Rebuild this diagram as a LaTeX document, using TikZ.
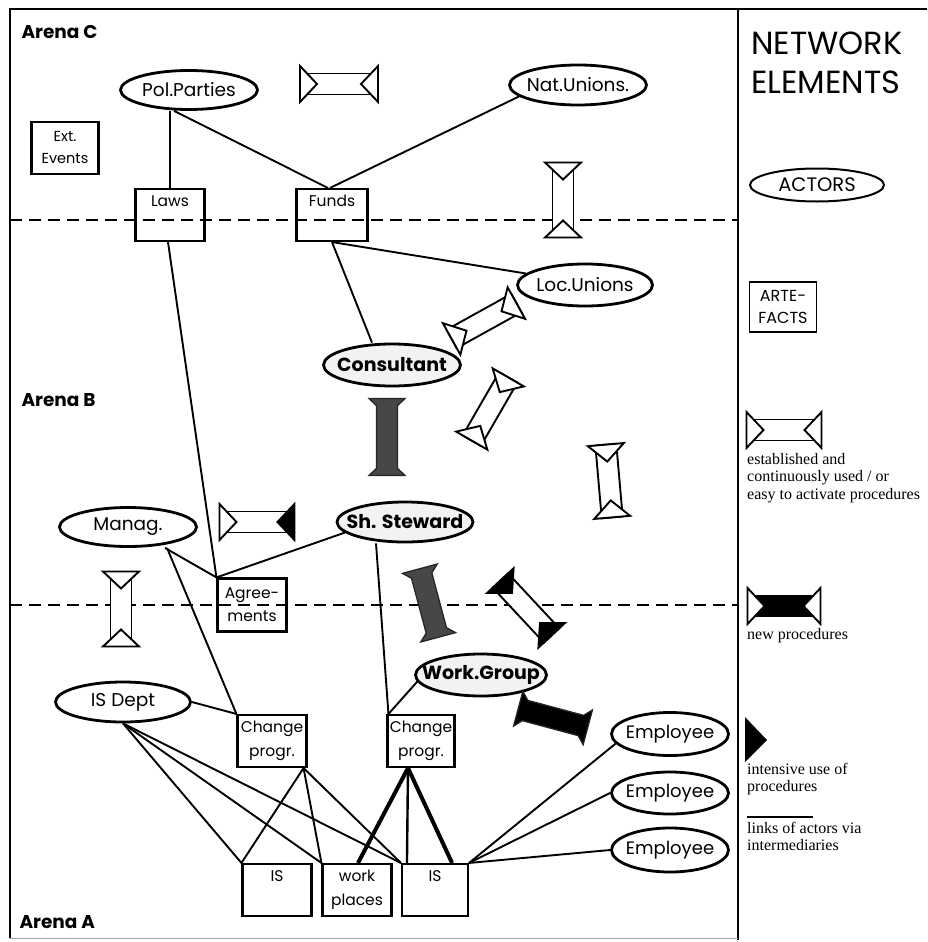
\documentclass[tikz,border=0pt]{standalone}
\usepackage{fontspec}
\setmainfont{Poppins}
\newfontfamily\legendfont{Liberation Serif}
\usetikzlibrary{shapes.geometric}
\newcommand\ztxt[1]{\makebox[0pt]{#1}}
\newcommand\procsym[6]{%
\begin{scope}[shift={(#1)},rotate=#2]
 \draw[procline,fill=#4] (-#3/2,-10.5) rectangle (#3/2,10.5);
 \draw[procline,fill=#5] (-#3/2,-18) -- (-#3/2,18) -- (-#3/2+17,0) -- cycle;
 \draw[procline,fill=#6] (#3/2,-18) -- (#3/2,18) -- (#3/2-17,0) -- cycle;
\end{scope}}
\newcommand\procsolid[4]{%
\begin{scope}[shift={(#1)},rotate=#2]
 \draw[procline,line width=1.3pt,draw=black!85,fill=#4] (-#3/2,-18) -- (-#3/2+7.1,-10.5) -- (#3/2-7.1,-10.5) -- (#3/2,-18) -- (#3/2,18) -- (#3/2-7.1,10.5) -- (-#3/2+7.1,10.5) -- (-#3/2,18) -- cycle;
\end{scope}}
\tikzset{
 actor/.style={ellipse,draw,line width=2.8pt,inner sep=0pt,font=\fontsize{18.5}{20}\selectfont},
 keyactor/.style={actor,fill=black!5,font=\fontsize{19}{21}\selectfont\bfseries},
 box/.style={draw,line width=2.1pt,inner sep=0pt,align=center,minimum width=69pt,minimum height=52pt,font=\fontsize{15.5}{24}\selectfont},
 link/.style={line width=1.9pt},
 thicklink/.style={line width=4pt},
 procline/.style={line width=1.9pt,line join=miter},
 arena/.style={anchor=west,font=\fontsize{18.5}{20}\selectfont\bfseries},
 divider/.style={line width=2.4pt,dash pattern=on 12pt off 7pt},
 legtext/.style={anchor=north west,align=left,inner sep=0pt,font=\legendfont\fontsize{16}{17.5}\selectfont},
}
\begin{document}
\begin{tikzpicture}[x=1pt,y=-1pt]
\useasboundingbox (0,0) rectangle (927,942);
% frame
\draw[line width=2.2pt] (10,938) -- (10,9) -- (927,9);
\draw[line width=2.2pt] (738,9) -- (738,940);
\draw[line width=1pt,black!35] (10,938) -- (738,938);
% dashed arena dividers
\draw[divider] (10,220) -- (738,220);
\draw[divider] (10,605) -- (738,605);
% arena labels
\node[arena] (arC) at (18,32) {Arena C};
\node[arena] (arB) at (18,400) {Arena B};
\node[arena] (arA) at (16,922) {Arena A};
% actors
\node[actor,minimum width=137pt,minimum height=39pt] (pp) at (189,90) {\ztxt{Pol.Parties}};
\node[actor,minimum width=137pt,minimum height=40pt] (nat) at (578,85) {\ztxt{Nat.Unions.}};
\node[actor,minimum width=135pt,minimum height=42pt] (loc) at (585,285) {\ztxt{Loc.Unions}};
\node[keyactor,minimum width=137pt,minimum height=42pt] (cons) at (392,365) {\ztxt{Consultant}};
\node[keyactor,minimum width=136pt,minimum height=40pt] (ss) at (405,522) {\ztxt{Sh. Steward}};
\node[actor,minimum width=137pt,minimum height=39pt] (manag) at (128,527) {\ztxt{Manag.}};
\node[keyactor,minimum width=131pt,minimum height=42pt] (wg) at (481,675) {\ztxt{Work.Group}};
\node[actor,minimum width=135pt,minimum height=40pt] (isd) at (123,702) {\ztxt{IS Dept}};
\node[actor,minimum width=117pt,minimum height=43pt,font=\fontsize{18}{20}\selectfont] (emp1) at (670,734) {\ztxt{Employee}};
\node[actor,minimum width=117pt,minimum height=42pt,font=\fontsize{18}{20}\selectfont] (emp2) at (670,793) {\ztxt{Employee}};
\node[actor,minimum width=117pt,minimum height=44pt,font=\fontsize{18}{20}\selectfont] (emp3) at (670,850) {\ztxt{Employee}};
% artefacts
\node[box,minimum width=67pt,font=\fontsize{14.5}{22}\selectfont] (ext) at (65,148) {Ext.\\Events};
\node[box] (laws) at (170,215) {Laws\\\phantom{g}};
\node[box,minimum width=71pt] (funds) at (332,215) {Funds\\\phantom{g}};
\node[box,minimum height=53pt,font=\fontsize{15.5}{23}\selectfont] (agree) at (252,605) {Agree-\\ments};
\node[box] (chL) at (272,741) {Change\\progr.};
\node[box,minimum width=67pt] (chR) at (421,741) {Change\\progr.};
\node[box,minimum height=52pt] (is1) at (277,890) {IS\\\phantom{g}};
\node[box,minimum height=52pt] (wp) at (357,890) {work\\places};
\node[box,minimum width=66pt,minimum height=52pt] (is2) at (435,890) {IS\\\phantom{g}};
% links
\draw[link] (laws.north |- pp.south) -- (laws.north);
\draw[link] ([xshift=-15pt]pp.south) -- ([xshift=-4pt]funds.north);
\draw[link] (nat.191) -- ([xshift=-2pt]funds.north);
\draw[link] ([xshift=-2pt]laws.south) -- (agree.north west);
\draw[link] (funds.south) -- ([xshift=-20pt]cons.north);
\draw[link] (funds.south) -- (loc.169);
\draw[link] ([xshift=37pt]manag.south) -- (agree.north west);
\draw[link] ([xshift=39pt]manag.south) -- (chL.north west);
\draw[link] (ss.190) -- (agree.north west);
\draw[link] ([xshift=-29pt]ss.south) -- ([xshift=2pt]chR.north west);
\draw[link] (wg.186) -- ([xshift=2pt]chR.north west);
\draw[link] (isd.east) -- (chL.north west);
\draw[link] (isd.south) -- (is1.north west);
\draw[link] (isd.south) -- (wp.north west);
\draw[link] (isd.south) -- (is2.north west);
\draw[link] ([xshift=-4pt]chL.south east) -- (is1.north west);
\draw[link] ([xshift=-4pt]chL.south east) -- (wp.north west);
\draw[link] ([xshift=-4pt]chL.south east) -- (is2.north west);
\draw[thicklink] ([xshift=-13pt]chR.south) -- ([xshift=1pt]wp.north);
\draw[line width=2.4pt] ([xshift=-13pt]chR.south) -- ([xshift=6pt]is2.north west);
\draw[thicklink] ([xshift=-13pt]chR.south) -- ([xshift=-17pt]is2.north east);
\draw[link] (is2.north east) -- (emp1.190);
\draw[link] (is2.north east) -- (emp2.west);
\draw[link] (is2.north east) -- (emp3.west);
% procedures
\procsym{339,84}{0}{78}{white}{white}{white}
\procsym{563,200}{90}{75}{white}{white}{white}
\procsym{484,321}{29}{74}{white}{white}{white}
\procsym{490,409}{60}{73}{white}{white}{white}
\procsym{609,481}{95}{73}{white}{white}{white}
\procsolid{387,437}{90}{77}{black!72}
\procsym{257,522}{0}{75}{white}{white}{black}
\procsym{121,609}{90}{75}{white}{white}{white}
\procsolid{429,603}{105}{71}{black!72}
\procsym{526,608}{-47}{75}{white}{black}{black}
\procsolid{553,718}{-15}{72}{black}
% legend
\node[anchor=west,inner sep=0pt,font=\fontsize{32}{34}\selectfont] (net) at (751,43) {NETWORK};
\node[anchor=west,inner sep=0pt,font=\fontsize{32}{34}\selectfont] (elem) at (751,82) {ELEMENTS};
\node[actor,line width=2pt,minimum width=134pt,minimum height=33pt,font=\fontsize{19.5}{21}\selectfont] (lact) at (817,185) {\ztxt{ACTORS}};
\node[box,line width=1.7pt,minimum width=67pt,minimum height=50pt,font=\fontsize{16}{22}\selectfont] (lart) at (783,307) {ARTE-\\FACTS};
\procsym{784,430}{0}{75}{white}{white}{white}
\node[legtext] (lest) at (747,453) {established and\\continuously used / or\\easy to activate procedures};
\procsym{784,606}{0}{73}{black}{white}{white}
\node[legtext] (lnew) at (747,628) {new procedures};
\fill (745,717) -- (767,740) -- (745,762) -- cycle;
\node[legtext] (lint) at (747,763) {intensive use of\\procedures};
\draw[line width=1.5pt] (747,817) -- (813,817);
\node[legtext] (llink) at (747,822) {links of actors via\\intermediaries};
\end{tikzpicture}
\end{document}
